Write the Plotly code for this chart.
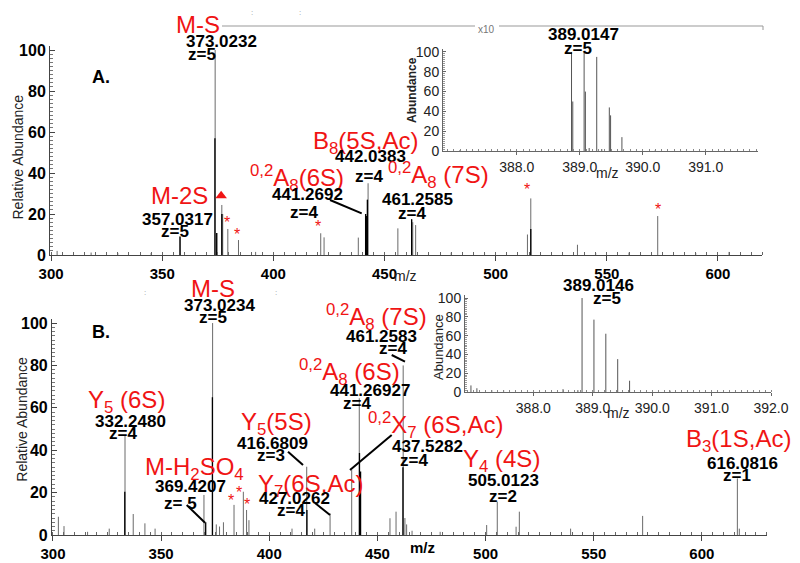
import plotly.graph_objects as go

# The page body adds an 8px margin, so the figure is drawn 8px smaller and
# every layout position below (given in window pixels) is shifted by that offset.
OX, OY = 8, 8
W, H = 800 - OX, 563 - OY

# ---------------- DATA ----------------
# Panel A (main spectrum): m/z and relative abundance
a_mz = [302.7, 318.0, 330.0, 345.0, 358.0, 373.8, 374.5, 376.8, 377.2, 379.5, 384.3, 392.0,
        405.0, 421.3, 422.8, 430.0, 438.2, 441.5, 441.8, 442.3, 442.6, 456.0, 462.2, 462.7,
        464.0, 480.0, 495.0, 514.3, 515.8, 536.8, 545.0, 560.0, 572.9, 590.0, 605.0]
a_int = [2.0, 1.2, 1.0, 1.0, 9.0, 100.0, 10.7, 24.4, 20.0, 12.7, 7.3, 1.5,
         1.0, 10.6, 8.6, 1.2, 8.5, 20.0, 19.0, 27.0, 35.0, 13.0, 17.4, 16.0,
         14.6, 1.2, 1.0, 10.0, 27.6, 5.0, 1.0, 1.2, 19.0, 1.0, 1.5]
a_dark_mz = [358.0, 373.7, 374.5, 376.8, 441.5, 441.8, 442.3, 462.2, 515.8]
a_dark_int = [9.0, 57.0, 10.7, 20.0, 20.0, 19.0, 27.0, 17.4, 12.7]
a_marker_mz = [376.5]
a_marker_int = [28.9]

# Inset A (x10 zoom on 389 cluster)
ia_mz = [387.1, 387.6, 388.6, 388.87, 388.89, 389.07, 389.09, 389.15, 389.27, 389.35, 389.47, 389.49, 389.67, 390.2]
ia_int = [1.0, 1.5, 1.5, 100.0, 50.0, 100.0, 60.0, 3.0, 95.0, 2.0, 44.0, 36.0, 14.0, 1.0]

# Panel B (main spectrum)
b_mz = [302.5, 305.1, 316.0, 326.0, 333.3, 337.1, 342.5, 347.2, 369.8, 373.8, 375.5, 377.0,
        378.8, 383.7, 388.0, 389.5, 390.6, 410.5, 417.3, 421.0, 428.1, 438.1, 441.6, 455.8,
        458.6, 461.9, 462.7, 463.5, 466.0, 479.0, 500.5, 505.4, 514.1, 515.6, 539.3, 572.6,
        616.4, 617.3]
b_int = [8.6, 4.2, 1.5, 3.0, 47.0, 9.9, 5.5, 3.0, 18.9, 100.0, 5.0, 4.0,
         6.0, 14.2, 20.4, 11.8, 7.0, 3.0, 32.2, 3.0, 10.2, 30.7, 64.5, 7.9,
         11.0, 80.0, 8.0, 5.0, 2.0, 1.5, 4.7, 15.7, 3.9, 11.0, 3.0, 9.0,
         26.7, 3.0]
b_dark_mz = [333.2, 370.6, 373.7, 417.4, 441.7, 442.2, 461.8]
b_dark_int = [20.4, 6.0, 65.0, 11.8, 38.7, 30.0, 32.0]

# Inset B
ib_mz = [386.95, 387.05, 387.3, 387.5, 388.5, 388.75, 388.82, 389.02, 389.22, 389.42, 389.62, 390.3]
ib_int = [7.0, 4.0, 2.0, 2.0, 3.0, 2.0, 100.0, 77.0, 62.0, 35.0, 12.0, 1.5]

main_ticks = [300, 350, 400, 450, 500, 550, 600]
inset_a_ticks = [388.0, 389.0, 390.0, 391.0]
inset_b_ticks = [388.0, 389.0, 390.0, 391.0, 392.0]
y_ticks = [0, 20, 40, 60, 80, 100]

# ---------------- HELPERS ----------------
def stems(mz, h):
    xs, ys = [], []
    for m, v in zip(mz, h):
        xs += [m, m, None]
        ys += [0, v, None]
    return xs, ys

def fx(px):
    return (px - OX) / W

def fy(py):
    return 1 - (py - OY) / H

def xd(a, b):
    return [fx(a), fx(b)]

def yd(top, bottom):
    return [fy(bottom), fy(top)]

FAM = "Liberation Sans, Arial, sans-serif"
RED = "#f01414"
NUM = dict(family=FAM, size=17, color="black", weight="bold")
LAB = dict(family=FAM, size=24, color=RED)

fig = go.Figure()

def add_stems(mz, h, xa, ya, color, width):
    xs, ys = stems(mz, h)
    fig.add_trace(go.Scatter(x=xs, y=ys, mode="lines", xaxis=xa, yaxis=ya,
                             line=dict(color=color, width=width), hoverinfo="skip"))

add_stems(a_mz, a_int, "x", "y", "#6a6a6a", 1)
add_stems(a_dark_mz, a_dark_int, "x", "y", "#000000", 1.3)
add_stems(ia_mz, ia_int, "x2", "y2", "#555555", 1)
add_stems(b_mz, b_int, "x3", "y3", "#6a6a6a", 1)
add_stems(b_dark_mz, b_dark_int, "x3", "y3", "#000000", 1.3)
add_stems(ib_mz, ib_int, "x4", "y4", "#555555", 1)

fig.add_trace(go.Scatter(x=a_marker_mz, y=a_marker_int, mode="markers", xaxis="x", yaxis="y",
                         marker=dict(symbol="triangle-up", color=RED, size=10), hoverinfo="skip"))

# ---------------- AXES ----------------
def main_x(domain, rng, anchor):
    return dict(domain=domain, range=rng, anchor=anchor, showline=True, linecolor="#444", linewidth=1,
                showgrid=False, zeroline=False, ticks="outside", ticklen=5, tickcolor="#444",
                tickvals=main_ticks, tickfont=dict(family=FAM, size=15, color="black", weight="bold"),
                minor=dict(dtick=5, tick0=300, ticks="inside", ticklen=3, tickcolor="#666", showgrid=False))

def main_y(domain, anchor):
    return dict(domain=domain, range=[0, 102], anchor=anchor, showline=True, linecolor="#444", linewidth=1,
                showgrid=False, zeroline=False, ticks="inside", ticklen=5, tickcolor="#444",
                tickvals=y_ticks, tickfont=dict(family=FAM, size=16, color="black", weight="bold"),
                minor=dict(dtick=2, ticks="inside", ticklen=3, tickcolor="#777", showgrid=False))

def inset_x(domain, rng, ticks, anchor):
    return dict(domain=domain, range=rng, anchor=anchor, showline=True, linecolor="#666", linewidth=1,
                showgrid=False, zeroline=False, ticks="outside", ticklen=3, tickcolor="#666",
                tickvals=ticks, ticktext=["%.1f" % t for t in ticks],
                tickfont=dict(family=FAM, size=14, color="#222"),
                minor=dict(dtick=0.1, ticks="inside", ticklen=2, tickcolor="#888", showgrid=False))

def inset_y(domain, anchor):
    return dict(domain=domain, range=[0, 103], anchor=anchor, showline=True, linecolor="#666", linewidth=1,
                showgrid=False, zeroline=False, ticks="inside", ticklen=3, tickcolor="#666",
                tickvals=y_ticks, tickfont=dict(family=FAM, size=14, color="#222"),
                minor=dict(dtick=2, ticks="inside", ticklen=2, tickcolor="#999", showgrid=False))

fig.update_layout(
    width=W, height=H, margin=dict(l=0, r=0, t=0, b=0, pad=0, autoexpand=False),
    paper_bgcolor="white", plot_bgcolor="rgba(0,0,0,0)", showlegend=False,
    xaxis=main_x(xd(50, 762.4), [299.5, 620], "y"),
    yaxis=main_y(yd(45.9, 255), "x"),
    xaxis2=inset_x(xd(443, 758), [386.83, 391.83], inset_a_ticks, "y2"),
    yaxis2=inset_y(yd(49, 151), "x2"),
    xaxis3=main_x(xd(51.9, 767), [299.5, 630.1], "y3"),
    yaxis3=main_y(yd(318.8, 535), "x3"),
    xaxis4=inset_x(xd(465, 771), [386.85, 392.0], inset_b_ticks, "y4"),
    yaxis4=inset_y(yd(295.2, 392), "x4"),
)

# ---------------- TEXT ----------------
ann = []
def T(x, y, text, font, angle=0):
    ann.append(dict(xref="paper", yref="paper", x=fx(x), y=fy(y), text=text, showarrow=False,
                    xanchor="center", yanchor="middle", font=font, textangle=angle))

def star(x, y):
    T(x, y + 4, "*", dict(family=FAM, size=16, color=RED))

# Panel A
T(198, 24, "M-S", LAB)
T(221, 41.7, "373.0232", NUM)
T(202, 54, "z=5", NUM)
T(101, 77, "A.", dict(family=FAM, size=18, color="black", weight="bold"))
T(179, 195, "M-2S", LAB)
T(177, 219, "357.0317", NUM)
T(175, 231, "z=5", NUM)
T(297, 178, "<sup>0,2</sup>A<sub>8</sub>(6S)", LAB)
T(307.5, 194, "441.2692", NUM)
T(304, 212, "z=4", NUM)
T(365, 143, "B<sub>8</sub>(5S,Ac)", LAB)
T(370, 156.7, "442.0383", NUM)
T(369, 176.7, "z=4", NUM)
T(438, 175, "<sup>0,2</sup>A<sub>8</sub> (7S)", LAB)
T(417.5, 199, "461.2585", NUM)
T(412, 213.3, "z=4", NUM)
for sx, sy in [(226.7, 218), (236.5, 230), (317.5, 223), (527.3, 185), (658.3, 205)]:
    star(sx, sy)
T(583, 35, "389.0147", NUM)
T(578, 48.3, "z=5", NUM)
T(486.7, 29.3, "x10", dict(family=FAM, size=10, color="#777"))
T(252, 12, ":", dict(family=FAM, size=8, color="#999"))
T(300, 12, ":", dict(family=FAM, size=8, color="#999"))
T(17.5, 157, "Relative Abundance", dict(family=FAM, size=14, color="#222"), -90)
T(412, 90, "Abundance", dict(family=FAM, size=12, color="#222", weight="bold"), -90)
T(406, 276, "m/z", dict(family=FAM, size=14, color="#222"))
T(607, 173, "m/z", dict(family=FAM, size=14, color="#222"))

# Panel B
T(212.5, 288, "M-S", LAB)
T(219, 305, "373.0234", NUM)
T(213, 317, "z=5", NUM)
T(101, 332, "B.", dict(family=FAM, size=18, color="black", weight="bold"))
T(126.7, 401, "Y<sub>5</sub> (6S)", LAB)
T(130, 421.7, "332.2480", NUM)
T(122.5, 433, "z=4", NUM)
T(276, 423, "Y<sub>5</sub>(5S)", LAB)
T(272.5, 443, "416.6809", NUM)
T(271, 455, "z=3", NUM)
T(194, 468, "M-H<sub>2</sub>SO<sub>4</sub>", LAB)
T(190.8, 486.7, "369.4207", NUM)
T(180, 503.3, "z= 5", NUM)
T(310.8, 485, "Y<sub>7</sub>(6S,Ac)", LAB)
T(294, 498.3, "427.0262", NUM)
T(290.8, 510, "z=4", NUM)
T(376, 316.7, "<sup>0,2</sup>A<sub>8</sub> (7S)", LAB)
T(381, 336, "461.2583", NUM)
T(393, 348.3, "z=4", NUM)
T(349, 371.7, "<sup>0,2</sup>A<sub>8</sub> (6S)", LAB)
T(370, 390.7, "441.26927", NUM)
T(356.7, 403.3, "z=4", NUM)
T(435, 425, "<sup>0,2</sup>X<sub>7</sub> (6S,Ac)", LAB)
T(427.5, 446, "437.5282", NUM)
T(414, 460, "z=4", NUM)
T(501.7, 460, "Y<sub>4</sub> (4S)", LAB)
T(503, 480, "505.0123", NUM)
T(502.5, 496.7, "z=2", NUM)
T(738, 440, "B<sub>3</sub>(1S,Ac)", LAB)
T(742.5, 463.3, "616.0816", NUM)
T(737, 475, "z=1", NUM)
for sx, sy in [(231, 496), (239.3, 488.3), (247.3, 500)]:
    star(sx, sy)
T(598, 285, "389.0146", NUM)
T(607, 298.3, "z=5", NUM)
T(21.7, 419, "Relative Abundance", dict(family=FAM, size=14, color="#222"), -90)
T(438, 347, "Abundance", dict(family=FAM, size=13, color="#222"), -90)
T(422, 547, "m/z", dict(family=FAM, size=15, color="black", weight="bold"))
T(618, 413.3, "m/z", dict(family=FAM, size=14, color="#222"))
T(145, 292, ":", dict(family=FAM, size=8, color="#999"))
T(276, 292, ":", dict(family=FAM, size=8, color="#999"))

fig.update_layout(annotations=ann)

# ---------------- LEADER LINES ----------------
shapes = []
def L(x0, y0, x1, y1, color="black", width=2):
    shapes.append(dict(type="line", xref="paper", yref="paper", x0=fx(x0), y0=fy(y0),
                       x1=fx(x1), y1=fy(y1), line=dict(color=color, width=width)))

L(330, 200, 361.7, 213.3)
L(288, 451.7, 303, 465)
L(186.7, 505, 205, 522.7)
L(315, 503, 330, 515)
L(391.7, 355, 405, 361.7)
L(391.7, 435, 350, 470)
# magnification bar (x10)
L(222, 26, 475, 26, "#999", 1)
L(499, 26, 763, 26, "#999", 1)
L(763, 26, 763, 30, "#999", 1)
fig.update_layout(shapes=shapes)

fig.write_html("out.html")
